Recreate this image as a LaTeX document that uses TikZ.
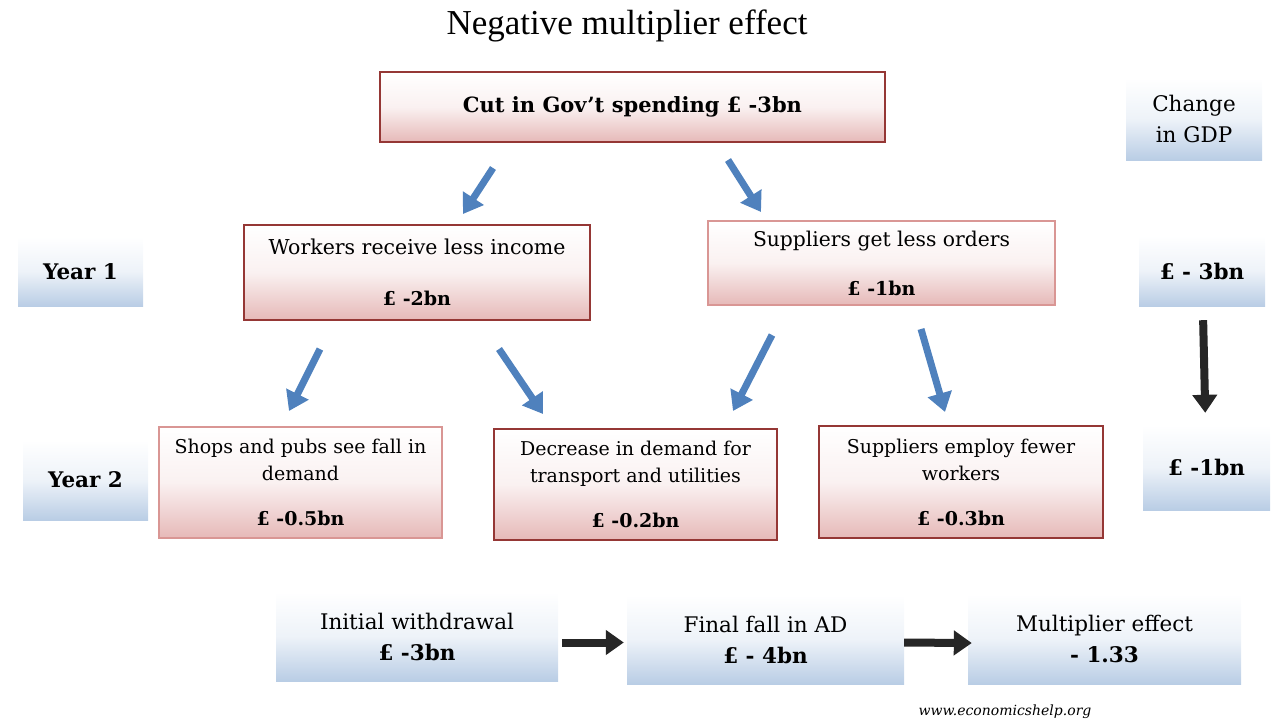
\documentclass[tikz,border=0pt]{standalone}
\usepackage{fontspec}
\setmainfont{DejaVu Serif}
\newfontfamily\titlefont{Liberation Serif}
\usetikzlibrary{arrows.meta}

\definecolor{boxred}{HTML}{953735}
\definecolor{edgepink}{HTML}{D99694}
\definecolor{boxpink}{HTML}{E6B9B8}
\definecolor{boxblue}{HTML}{B9CDE5}
\definecolor{arrowblue}{HTML}{4F81BD}
\definecolor{arrowdark}{HTML}{262626}

\newcommand{\bodysize}{\fontsize{19}{27}\selectfont}
\newcommand{\bigsize}{\fontsize{21.5}{31}\selectfont}
\newcommand{\gap}[1]{\\[#1pt]}

\tikzset{
  pinkbox/.style={draw=boxred, line width=1.8pt, top color=white,
    bottom color=boxpink, middle color=boxpink!20, align=center,
    inner sep=0pt, font=\bodysize},
  palebox/.style={pinkbox, draw=edgepink, line width=1.5pt},
  bluebox/.style={top color=white, bottom color=boxblue,
    middle color=boxblue!25, align=center, inner sep=0pt, font=\bigsize},
  bluearrow/.style={arrowblue, line width=7pt,
    -{Triangle[width=24pt,length=19pt]}},
  darkarrow/.style={arrowdark, line width=8pt,
    -{Triangle[width=24pt,length=18pt]}}
}

\begin{document}
\begin{tikzpicture}[x=1pt,y=-1pt]
  \useasboundingbox (0,0) rectangle (1276,726);

  \node (title) at (627,26) {\titlefont\fontsize{35}{38}\selectfont Negative multiplier effect};

  % first row
  \node[pinkbox, minimum width=505, minimum height=70] (cut) at (632.5,107)
    {\bfseries\fontsize{21}{24}\selectfont Cut in Gov’t spending £ -3bn};
  \node[bluebox, minimum width=136, minimum height=82] (gdp) at (1194,119)
    {\fontsize{21.5}{28}\selectfont Change\\in GDP};

  % year 1
  \node[bluebox, minimum width=125, minimum height=69] (year1) at (80.5,271.5)
    {\bfseries Year 1};
  \node[pinkbox, minimum width=346, minimum height=95] (workers) at (417,272.5)
    {\fontsize{20.5}{24}\selectfont Workers receive less income\gap{24}\bfseries £ -2bn};
  \node[palebox, minimum width=347, minimum height=84] (orders) at (881.5,263)
    {\fontsize{20.3}{24}\selectfont Suppliers get less orders\gap{22}\bfseries £ -1bn};
  \node[bluebox, minimum width=126, minimum height=70] (gdp1) at (1202,271)
    {\bfseries £ - 3bn};

  % year 2
  \node[bluebox, minimum width=125, minimum height=80] (year2) at (85.5,480)
    {\bfseries Year 2};
  \node[palebox, minimum width=283, minimum height=111] (shops) at (300.5,482.5)
    {Shops and pubs see fall in\\demand\gap{18}\bfseries £ -0.5bn};
  \node[pinkbox, minimum width=283, minimum height=111] (transport) at (635.5,484.5)
    {Decrease in demand for\\transport and utilities\gap{18}\bfseries £ -0.2bn};
  \node[pinkbox, minimum width=284, minimum height=112] (employ) at (961,482)
    {Suppliers employ fewer\\workers\gap{18}\bfseries £ -0.3bn};
  \node[bluebox, minimum width=127, minimum height=85] (gdp2) at (1206.5,467.5)
    {\bfseries £ -1bn};

  % summary row
  \node[bluebox, minimum width=282, minimum height=89] (initial) at (417,636.5)
    {Initial withdrawal\\\bfseries £ -3bn};
  \node[bluebox, minimum width=277, minimum height=89] (final) at (765.5,639.5)
    {Final fall in AD\\\bfseries £ - 4bn};
  \node[bluebox, minimum width=273, minimum height=90] (mult) at (1104.5,639)
    {Multiplier effect\\\bfseries - 1.33};

  \node (web) at (1005,712) {\itshape\fontsize{14}{16}\selectfont www.economicshelp.org};

  % blue arrows
  \coordinate (a1) at (493,168);  \coordinate (b1) at (463,214);
  \coordinate (a2) at (728,160);  \coordinate (b2) at (761,212);
  \coordinate (a3) at (320,349);  \coordinate (b3) at (289,411);
  \coordinate (a4) at (499,349);  \coordinate (b4) at (543,414);
  \coordinate (a5) at (772,335);  \coordinate (b5) at (733,411);
  \coordinate (a6) at (921,329);  \coordinate (b6) at (945,412);
  \draw[bluearrow] (a1) -- (b1);
  \draw[bluearrow] (a2) -- (b2);
  \draw[bluearrow] (a3) -- (b3);
  \draw[bluearrow] (a4) -- (b4);
  \draw[bluearrow] (a5) -- (b5);
  \draw[bluearrow] (a6) -- (b6);

  % dark arrows
  \draw[darkarrow, shorten <=14pt, shorten >=12pt] (gdp1) -- (gdp2);
  \draw[darkarrow, shorten <=4pt, shorten >=3pt] ([yshift=-6pt]initial.east) -- ([yshift=-3pt]final.west);
  \draw[darkarrow, shorten >=-4pt] ([yshift=-3pt]final.east) -- ([yshift=-4pt]mult.west);
\end{tikzpicture}
\end{document}
